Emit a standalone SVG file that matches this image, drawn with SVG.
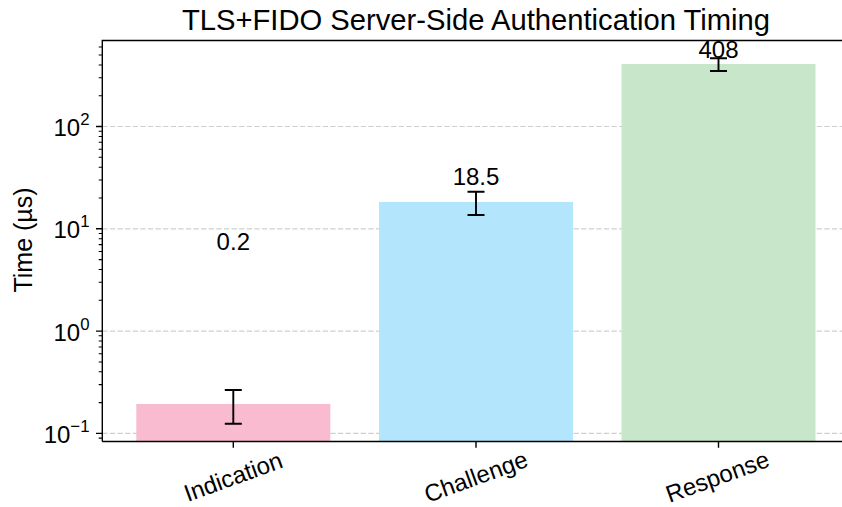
<svg xmlns="http://www.w3.org/2000/svg" width="842" height="507" viewBox="0 0 842 507">
  <style>
    text { font-family: "Liberation Sans", Arial, sans-serif; fill: #000; }
    .lbl { font-size: 24px; }
    .ylab { font-size: 25px; }
    .title { font-size: 29.2px; }
    .grid line { stroke: #cfcfcf; stroke-width: 1.2; stroke-dasharray: 5.3 2.3; }
    .spine { stroke: #000; stroke-width: 1.4; fill: none; }
    .major { stroke: #000; stroke-width: 1.4; }
    .minor { stroke: #000; stroke-width: 1.05; }
    .err { stroke: #000; stroke-width: 1.9; fill: none; }
  </style>
  <rect width="842" height="507" fill="#fff"/>

  <!-- horizontal grid at the major decades -->
  <g class="grid">
    <line x1="102.3" y1="126.5" x2="842" y2="126.5"/>
    <line x1="102.3" y1="228.8" x2="842" y2="228.8"/>
    <line x1="102.3" y1="331.1" x2="842" y2="331.1"/>
    <line x1="102.3" y1="433.4" x2="842" y2="433.4"/>
  </g>

  <!-- bars -->
  <g id="bar-indication">
    <rect x="136.3" y="404" width="194" height="37.5" fill="#F8BBD0"/>
    <path class="err" d="M233.3 390V423.7M224.8 390H241.8M224.8 423.7H241.8"/>
    <text class="lbl" x="233.3" y="250" text-anchor="middle">0.2</text>
  </g>
  <g id="bar-challenge">
    <rect x="379" y="202" width="194" height="239.5" fill="#B3E5FC"/>
    <path class="err" d="M476 191.7V215M467.5 191.7H484.5M467.5 215H484.5"/>
    <text class="lbl" x="476" y="185" text-anchor="middle">18.5</text>
  </g>
  <g id="bar-response">
    <rect x="621.5" y="64" width="194" height="377.5" fill="#C8E6C9"/>
    <path class="err" d="M718.5 58.3V71M710 58.3H727M710 71H727"/>
    <text class="lbl" x="718.5" y="58.3" text-anchor="middle">408</text>
  </g>

  <!-- axes frame -->
  <g id="axes">
    <path class="spine" d="M102.3 441.5V40.5H842M102.3 441.5H842"/>
    <!-- major y ticks -->
    <path class="major" d="M96 126.5H102.3M96 228.8H102.3M96 331.1H102.3M96 433.4H102.3"/>
    <!-- minor y ticks -->
    <path class="minor" d="M98.7 438.1H102.3
      M98.7 402.6H102.3M98.7 384.6H102.3M98.7 371.8H102.3M98.7 361.9H102.3M98.7 353.8H102.3M98.7 346.9H102.3M98.7 341H102.3M98.7 335.8H102.3
      M98.7 300.3H102.3M98.7 282.3H102.3M98.7 269.5H102.3M98.7 259.6H102.3M98.7 251.5H102.3M98.7 244.6H102.3M98.7 238.7H102.3M98.7 233.5H102.3
      M98.7 198H102.3M98.7 180H102.3M98.7 167.2H102.3M98.7 157.3H102.3M98.7 149.2H102.3M98.7 142.3H102.3M98.7 136.4H102.3M98.7 131.2H102.3
      M98.7 95.7H102.3M98.7 77.7H102.3M98.7 64.9H102.3M98.7 55H102.3M98.7 46.9H102.3"/>
    <!-- x ticks -->
    <path class="major" d="M233.3 441.5V447.8M476 441.5V447.8M718.5 441.5V447.8"/>

    <!-- y tick labels -->
    <text class="lbl" x="89.5" y="136" text-anchor="end">10<tspan font-size="16.8" dy="-11">2</tspan></text>
    <text class="lbl" x="89.5" y="238.3" text-anchor="end">10<tspan font-size="16.8" dy="-11">1</tspan></text>
    <text class="lbl" x="89.5" y="340.6" text-anchor="end">10<tspan font-size="16.8" dy="-11">0</tspan></text>
    <text class="lbl" x="89.5" y="442.9" text-anchor="end">10<tspan font-size="16.8" dy="-11">−1</tspan></text>

    <!-- x tick labels -->
    <text class="lbl" transform="translate(233.3 477) rotate(-20)" x="0" y="8" text-anchor="middle">Indication</text>
    <text class="lbl" transform="translate(476 477) rotate(-20)" x="0" y="8" text-anchor="middle">Challenge</text>
    <text class="lbl" transform="translate(717.5 477) rotate(-20)" x="0" y="8" text-anchor="middle">Response</text>

    <!-- axis label and title -->
    <text class="ylab" transform="translate(24 240) rotate(-90)" x="0" y="8" text-anchor="middle">Time (µs)</text>
    <text class="title" x="476" y="30" text-anchor="middle">TLS+FIDO Server-Side Authentication Timing</text>
  </g>
</svg>
